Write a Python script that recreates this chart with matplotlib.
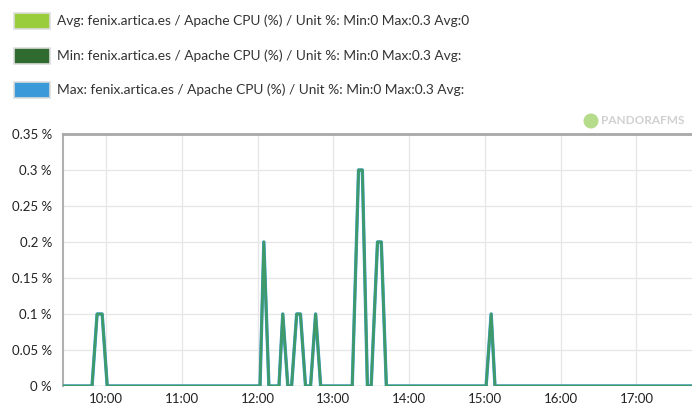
import matplotlib
matplotlib.use("Agg")
import matplotlib.pyplot as plt
from matplotlib.patches import Rectangle, Ellipse
import datetime as dt

plt.rcParams['font.family'] = ['Lato', 'DejaVu Sans']

times = ["09:26", "09:49", "09:53", "09:57", "10:01", "12:02", "12:05", "12:09",
         "12:17", "12:20", "12:24", "12:27", "12:31", "12:34", "12:38", "12:42",
         "12:46", "12:50", "13:15", "13:20", "13:23", "13:27", "13:30", "13:35",
         "13:38", "13:42", "15:01", "15:05", "15:08", "17:44"]
values = [0, 0, 0.1, 0.1, 0, 0, 0.2, 0, 0, 0.1, 0, 0, 0.1, 0.1, 0, 0,
          0.1, 0, 0, 0.3, 0.3, 0, 0, 0.2, 0.2, 0, 0, 0.1, 0, 0]
legend_labels = [
    "Avg: fenix.artica.es / Apache CPU (%) / Unit %: Min:0 Max:0.3 Avg:0",
    "Min: fenix.artica.es / Apache CPU (%) / Unit %: Min:0 Max:0.3 Avg:",
    "Max: fenix.artica.es / Apache CPU (%) / Unit %: Min:0 Max:0.3 Avg:",
]
legend_colors = ["#9acd3c", "#2f6b2f", "#3a9ad9"]
yticks = [0, 0.05, 0.1, 0.15, 0.2, 0.25, 0.3, 0.35]
xtick_labels = ["10:00", "11:00", "12:00", "13:00", "14:00", "15:00", "16:00", "17:00"]

base = dt.date(2020, 1, 1)
def to_dt(s):
    h, m = map(int, s.split(":"))
    return dt.datetime.combine(base, dt.time(h, m))

x = [to_dt(t) for t in times]

W, H = 692, 407
fig = plt.figure(figsize=(W / 100, H / 100), dpi=100)
ax = fig.add_axes([63 / W, (H - 386) / H, 1 - 63 / W, (386 - 134) / H])

ax.plot(x, values, color="#3a9ad9", lw=2.4, solid_joinstyle="round", zorder=3)
ax.plot(x, values, color="#3f9a68", lw=1.9, solid_joinstyle="round", zorder=4)

ax.set_xlim(to_dt("09:26"), to_dt("17:44"))
ax.set_ylim(0, 0.35)
ax.set_yticks(yticks)
ax.set_yticklabels([f"{v:g} %" for v in yticks])
ax.set_xticks([to_dt(t) for t in xtick_labels])
ax.set_xticklabels(xtick_labels)
ax.tick_params(axis="both", length=0, labelsize=9.5, colors="#222222")
ax.tick_params(axis="y", pad=8)
ax.tick_params(axis="x", pad=5)
ax.grid(True, color="#e6e6e6", lw=0.9)
ax.set_axisbelow(True)
for side in ["right", "bottom"]:
    ax.spines[side].set_visible(False)
ax.spines["top"].set_color("#a8a8a8")
ax.spines["top"].set_linewidth(2)
ax.spines["left"].set_color("#b0b0b0")
ax.spines["left"].set_linewidth(1.5)
ax.axhline(0, color="#cccccc", lw=1, zorder=2)

# legend
rows_y = [21, 56, 90]
for lab, col, yc in zip(legend_labels, legend_colors, rows_y):
    fig.patches.append(Rectangle((14 / W, (H - yc - 8) / H), 36 / W, 16 / H,
                                 transform=fig.transFigure, facecolor=col,
                                 edgecolor="#dddddd", lw=1.2))
    fig.text(57 / W, (H - yc) / H, lab, fontsize=9.9, va="center", ha="left",
             color="#333333")

# watermark
fig.patches.append(Ellipse((591 / W, (H - 121) / H), 15 / W, 15 / H,
                           transform=fig.transFigure,
                           facecolor="#b5dc8a", edgecolor="none"))
fig.text(601 / W, (H - 121) / H, "PANDORAFMS", fontsize=8.5, color="#d0d0d0",
         va="center", ha="left", fontweight="bold")

fig.savefig("out.png", dpi=100)
